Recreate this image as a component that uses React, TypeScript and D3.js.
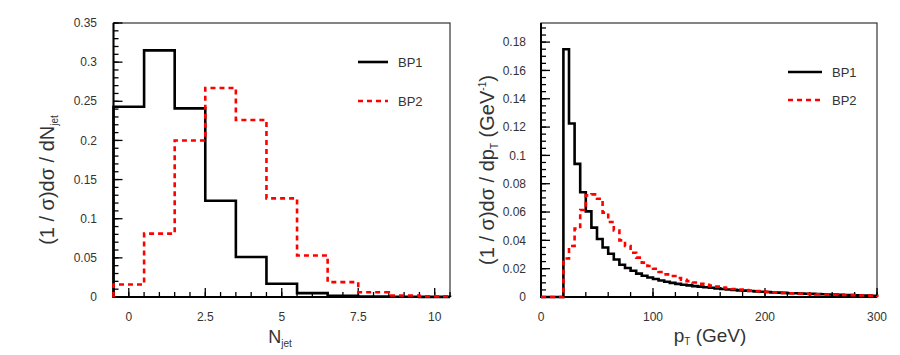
import React from "react";
import * as d3 from "d3";

// ---------- data ----------
const njetCenters = [0, 1, 2, 3, 4, 5, 6, 7, 8, 9, 10];
const njetBP1 = [0.243, 0.315, 0.241, 0.123, 0.051, 0.017, 0.005, 0.0015, 0.0006, 0.0003, 0.0001];
const njetBP2 = [0.016, 0.081, 0.2, 0.267, 0.226, 0.126, 0.053, 0.019, 0.006, 0.002, 0.0008];

const ptBinWidth = 5;
const ptBinLow = d3.range(0, 300, ptBinWidth);
const ptBP1 = [
  0, 0, 0, 0, 0.175, 0.1225, 0.094, 0.074, 0.0605, 0.049,
  0.041, 0.035, 0.0305, 0.0265, 0.0228, 0.0205, 0.0185, 0.0165, 0.015, 0.0138,
  0.0127, 0.0117, 0.0108, 0.01, 0.0093, 0.0087, 0.0082, 0.0077, 0.0073, 0.0069,
  0.0065, 0.0061, 0.0057, 0.0053, 0.005, 0.0047, 0.0045, 0.0042, 0.004, 0.0037,
  0.0035, 0.0033, 0.0031, 0.0029, 0.0027, 0.0026, 0.0024, 0.0023, 0.0022, 0.002,
  0.0019, 0.0018, 0.0017, 0.0016, 0.0014, 0.0013, 0.0012, 0.0011, 0.001, 0.0009,
];
const ptBP2 = [
  0, 0, 0, 0, 0.0272, 0.036, 0.0483, 0.0614, 0.0718, 0.0725,
  0.0694, 0.0596, 0.053, 0.047, 0.04, 0.036, 0.0313, 0.0278, 0.0243, 0.0219,
  0.02, 0.0177, 0.016, 0.0148, 0.0134, 0.0122, 0.0112, 0.0102, 0.0094, 0.0087,
  0.008, 0.0073, 0.0067, 0.0062, 0.0057, 0.0053, 0.0049, 0.0045, 0.0042, 0.0039,
  0.0036, 0.0033, 0.0031, 0.0029, 0.0027, 0.0025, 0.0023, 0.0022, 0.002, 0.0019,
  0.0018, 0.0017, 0.0016, 0.0015, 0.0014, 0.0013, 0.0012, 0.0011, 0.001, 0.0009,
];

const seriesNames = ["BP1", "BP2"];
const leftYTicks = [0, 0.05, 0.1, 0.15, 0.2, 0.25, 0.3, 0.35];
const leftYTickLabels = ["0", "0.05", "0.1", "0.15", "0.2", "0.25", "0.3", "0.35"];
const leftXTicks = [0, 2.5, 5, 7.5, 10];
const leftXTickLabels = ["0", "2.5", "5", "7.5", "10"];
const rightYTicks = [0, 0.02, 0.04, 0.06, 0.08, 0.1, 0.12, 0.14, 0.16, 0.18];
const rightYTickLabels = ["0", "0.02", "0.04", "0.06", "0.08", "0.1", "0.12", "0.14", "0.16", "0.18"];
const rightXTicks = [0, 100, 200, 300];
const rightXTickLabels = ["0", "100", "200", "300"];

// ---------- styles ----------
const FONT = "'Liberation Sans', Arial, Helvetica, sans-serif";
const TXT = "#333";
const RED = "#ff0000";

type Scale = d3.ScaleLinear<number, number>;

function stepPath(lows: number[], width: number, vals: number[], x: Scale, y: Scale) {
  const pts: [number, number][] = [[x(lows[0]), y(0)]];
  vals.forEach((v, i) => {
    pts.push([x(lows[i]), y(v)]);
    pts.push([x(lows[i] + width), y(v)]);
  });
  pts.push([x(lows[lows.length - 1] + width), y(0)]);
  return d3.line()(pts) || "";
}

function Frame({ x, y, xMinor, yMinor, xMajor, yMajor }: { x: Scale; y: Scale; xMinor: number[]; yMinor: number[]; xMajor: number[]; yMajor: number[] }) {
  const [x0, x1] = x.range();
  const [y0, y1] = y.range();
  return (
    <g>
      <rect x={x0} y={y1} width={x1 - x0} height={y0 - y1} fill="none" stroke="#333" strokeWidth={1.2} />
      {yMinor.map((v, i) => (
        <line key={"ym" + i} x1={x0} x2={x0 + 5} y1={y(v)} y2={y(v)} stroke="#000" strokeWidth={1.3} />
      ))}
      {yMajor.map((v, i) => (
        <line key={"yM" + i} x1={x0} x2={x0 + 9} y1={y(v)} y2={y(v)} stroke="#000" strokeWidth={1.3} />
      ))}
      {xMinor.map((v, i) => (
        <line key={"xm" + i} x1={x(v)} x2={x(v)} y1={y0} y2={y0 - 5} stroke="#000" strokeWidth={1.3} />
      ))}
      {xMajor.map((v, i) => (
        <line key={"xM" + i} x1={x(v)} x2={x(v)} y1={y0} y2={y0 - 9} stroke="#000" strokeWidth={1.3} />
      ))}
      <line x1={x0} x2={x0} y1={y0 + 1} y2={y1} stroke="#000" strokeWidth={2} />
      <line x1={x0 - 1} x2={x1} y1={y0} y2={y0} stroke="#000" strokeWidth={2} />
    </g>
  );
}

function Legend({ x, y1, y2, textX }: { x: [number, number]; y1: number; y2: number; textX: number }) {
  return (
    <g fontFamily={FONT} fontSize={13} fill={TXT}>
      <line x1={x[0]} x2={x[1]} y1={y1} y2={y1} stroke="#000" strokeWidth={2.6} />
      <text x={textX} y={y1} dy="0.35em">{seriesNames[0]}</text>
      <line x1={x[0]} x2={x[1]} y1={y2} y2={y2} stroke={RED} strokeWidth={2.6} strokeDasharray="5,4" />
      <text x={textX} y={y2} dy="0.35em">{seriesNames[1]}</text>
    </g>
  );
}

export default function App() {
  // left panel
  const xL = d3.scaleLinear().domain([-0.5, 10.5]).range([113.5, 450]);
  const yL = d3.scaleLinear().domain([0, 0.35]).range([297, 23]);
  // right panel
  const xR = d3.scaleLinear().domain([0, 300]).range([541, 877]);
  const yR = d3.scaleLinear().domain([0, 0.1935]).range([297, 23]);

  const njetLows = njetCenters.map((c) => c - 0.5);

  const leftYMinor = d3.range(0, 0.3501, 0.01);
  const leftXMinor = d3.range(-0.5, 10.51, 0.5);
  const rightYMinor = d3.range(0, 0.1935, 0.005);
  const rightXMinor = d3.range(0, 300.1, 20);

  return (
    <svg width={900} height={355} style={{ position: "absolute", left: 0, top: 0, background: "#fff" }}>
      <rect width={900} height={355} fill="#fff" />
      {/* LEFT PANEL */}
      <Frame x={xL} y={yL} xMinor={leftXMinor} yMinor={leftYMinor} xMajor={leftXTicks} yMajor={leftYTicks} />
      <path d={stepPath(njetLows, 1, njetBP1, xL, yL)} fill="none" stroke="#000" strokeWidth={2.6} />
      <path d={stepPath(njetLows, 1, njetBP2, xL, yL)} fill="none" stroke={RED} strokeWidth={2.6} strokeDasharray="5,4" />
      <g fontFamily={FONT} fontSize={12} fill={TXT}>
        {leftYTicks.map((v, i) => (
          <text key={i} x={97} y={yL(v)} dy="0.35em" textAnchor="end">{leftYTickLabels[i]}</text>
        ))}
        {leftXTicks.map((v, i) => (
          <text key={i} x={xL(v)} y={321} textAnchor="middle">{leftXTickLabels[i]}</text>
        ))}
      </g>
      <text fontFamily={FONT} fontSize={18} fill={TXT} x={280} y={343} textAnchor="middle">
        N<tspan fontSize={10} dy={4}>jet</tspan>
      </text>
      <text fontFamily={FONT} fontSize={20} fill={TXT} transform="translate(54,180) rotate(-90)" textAnchor="middle">
        (1 / σ)dσ / dN<tspan fontSize={10} dy={4}>jet</tspan>
      </text>
      <Legend x={[358, 388]} y1={62} y2={101} textX={398} />

      {/* RIGHT PANEL */}
      <Frame x={xR} y={yR} xMinor={rightXMinor} yMinor={rightYMinor} xMajor={rightXTicks} yMajor={rightYTicks} />
      <path d={stepPath(ptBinLow, ptBinWidth, ptBP1, xR, yR)} fill="none" stroke="#000" strokeWidth={2.6} />
      <path d={stepPath(ptBinLow, ptBinWidth, ptBP2, xR, yR)} fill="none" stroke={RED} strokeWidth={2.6} strokeDasharray="5,4" />
      <g fontFamily={FONT} fontSize={12} fill={TXT}>
        {rightYTicks.map((v, i) => (
          <text key={i} x={526} y={yR(v)} dy="0.35em" textAnchor="end">{rightYTickLabels[i]}</text>
        ))}
        {rightXTicks.map((v, i) => (
          <text key={i} x={xR(v)} y={321} textAnchor="middle">{rightXTickLabels[i]}</text>
        ))}
      </g>
      <text fontFamily={FONT} fontSize={19} fill={TXT} x={710} y={342} textAnchor="middle">
        p<tspan fontSize={10} dy={3}>T</tspan><tspan dy={-3}>{"  (GeV)"}</tspan>
      </text>
      <text fontFamily={FONT} fontSize={20} fill={TXT} transform="translate(494,170) rotate(-90)" textAnchor="middle">
        (1 / σ)dσ / dp<tspan fontSize={10} dy={4}>T</tspan>
        <tspan dy={-4}>{" (GeV"}</tspan>
        <tspan fontSize={10} dy={-8}>-1</tspan>
        <tspan dy={8}>)</tspan>
      </text>
      <Legend x={[788, 822]} y1={72} y2={100} textX={832} />
    </svg>
  );
}
